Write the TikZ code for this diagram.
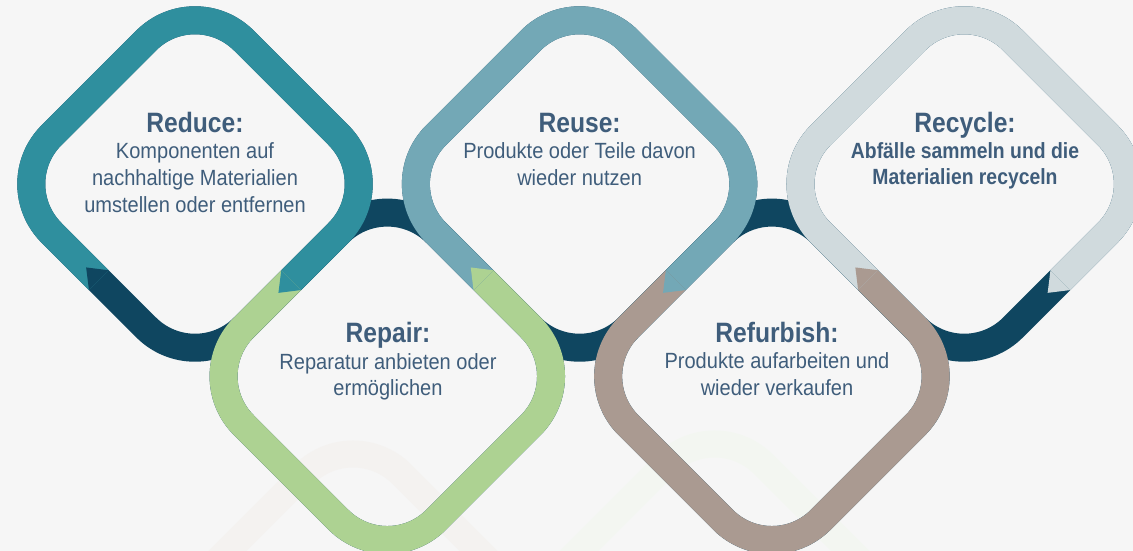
\documentclass[tikz,border=0pt]{standalone}
\usepackage{fontspec}
\setmainfont{Liberation Sans}
\newfontfamily\headfont[FakeStretch=0.88]{Liberation Sans}
\newfontfamily\bodyfont[FakeStretch=0.91]{Liberation Sans}
\usetikzlibrary{calc}
\definecolor{bgc}{HTML}{F6F6F6}
\definecolor{navyc}{HTML}{0F4660}
\definecolor{tealc}{HTML}{2F8F9E}
\definecolor{lteal}{HTML}{73A8B6}
\definecolor{grayc}{HTML}{D0DADD}
\definecolor{greenc}{HTML}{ADD292}
\definecolor{taupec}{HTML}{AA9A91}
\definecolor{txtc}{HTML}{3F5D7B}
\definecolor{faintbeige}{HTML}{F4F2F0}
\definecolor{faintgreen}{HTML}{F3F6F1}
\tikzset{
  ringband/.style={line width=28pt, rounded corners=69pt, line cap=butt},
  headtxt/.style={font=\headfont\bfseries\fontsize{28}{30}\selectfont, text=txtc, anchor=base, inner sep=0pt},
  bodytxt/.style={font=\bodyfont\fontsize{22}{26}\selectfont, text=txtc, anchor=base, inner sep=0pt},
  boldtxt/.style={font=\headfont\bfseries\fontsize{22}{26}\selectfont, text=txtc, anchor=base, inner sep=0pt}
}
\newcommand\diamondcorners[3]{%
  \coordinate (#1) at (#2,#3);
  \coordinate (#1-l) at ({#2-192.3},#3);
  \coordinate (#1-t) at (#2,{#3-192.3});
  \coordinate (#1-r) at ({#2+192.3},#3);
  \coordinate (#1-b) at (#2,{#3+192.3});
}
\newcommand\tipdown[2]{% junction, colour : flow down-left
  \fill[#2] ($(#1)+(9.9,9.9)$) -- ($(#1)+(-9.9,-9.9)$) -- ($(#1)+(-12.7,12.7)$) -- cycle;}
\newcommand\tipup[2]{% junction, colour : flow up-left
  \fill[#2] ($(#1)+(9.9,-9.9)$) -- ($(#1)+(-9.9,9.9)$) -- ($(#1)+(-12.7,-12.7)$) -- cycle;}
\begin{document}
\begin{tikzpicture}[x=1pt,y=-1pt]
\fill[bgc] (0,0) rectangle (1133,551);
\useasboundingbox (0,0) rectangle (1133,551);
\clip (0,0) rectangle (1133,551);
% faint reflections
\draw[line width=27pt, rounded corners=69pt, faintbeige] (203,575.4) -- (353,425.4) -- (503,575.4);
\draw[line width=27pt, rounded corners=69pt, faintgreen] (564.6,565.4) -- (714.6,415.4) -- (864.6,565.4);
% corners
\diamondcorners{A}{195}{184}
\diamondcorners{B}{387.3}{376.3}
\diamondcorners{C}{579.6}{184}
\diamondcorners{D}{771.9}{376.3}
\diamondcorners{E}{964.2}{184}
% junctions
\coordinate (J0) at ($(A-l)!0.5!(A-b)$);
\coordinate (J1) at ($(A-r)!0.5!(A-b)$);
\coordinate (J2) at ($(C-l)!0.5!(C-b)$);
\coordinate (J3) at ($(C-r)!0.5!(C-b)$);
\coordinate (J4) at ($(E-l)!0.5!(E-b)$);
\coordinate (J5) at ($(E-r)!0.5!(E-b)$);
% navy base rings
\foreach \n in {A,B,C,D,E}{
  \draw[ringband, navyc] ($(\n-l)!0.5!(\n-b)$) -- (\n-l) -- (\n-t) -- (\n-r) -- (\n-b) -- cycle;
}
% coloured segments
\draw[ringband, tealc]  (J0) -- (A-l) -- (A-t) -- (A-r) -- (J1);
\draw[ringband, greenc] (J1) -- (B-l) -- (B-b) -- (B-r) -- (J2);
\draw[ringband, lteal]  (J2) -- (C-l) -- (C-t) -- (C-r) -- (J3);
\draw[ringband, taupec] (J3) -- (D-l) -- (D-b) -- (D-r) -- (J4);
\draw[ringband, grayc]  (J4) -- (E-l) -- (E-t) -- (E-r) -- (J5);
% arrow tips
\tipup{J0}{navyc}
\tipdown{J1}{tealc}
\tipup{J2}{greenc}
\tipdown{J3}{lteal}
\tipup{J4}{taupec}
\tipdown{J5}{grayc}
% texts
\node[headtxt] (h1) at (195,132) {Reduce:};
\node[bodytxt] (t1a) at (195,158) {Komponenten auf};
\node[bodytxt] (t1b) at (195,185) {nachhaltige Materialien};
\node[bodytxt] (t1c) at (195,212) {umstellen oder entfernen};
\node[headtxt] (h3) at (579.6,132) {Reuse:};
\node[bodytxt] (t3a) at (579.6,158) {Produkte oder Teile davon};
\node[bodytxt] (t3b) at (579.6,185) {wieder nutzen};
\node[headtxt] (h5) at (965,132) {Recycle:};
\node[boldtxt] (t5a) at (965,158) {Abfälle sammeln und die};
\node[boldtxt] (t5b) at (965,184) {Materialien recyceln};
\node[headtxt] (h2) at (388,342) {Repair:};
\node[bodytxt] (t2a) at (388,369) {Reparatur anbieten oder};
\node[bodytxt] (t2b) at (388,395) {ermöglichen};
\node[headtxt] (h4) at (777,342) {Refurbish:};
\node[bodytxt] (t4a) at (777,368) {Produkte aufarbeiten und};
\node[bodytxt] (t4b) at (777,395) {wieder verkaufen};
\end{tikzpicture}
\end{document}
